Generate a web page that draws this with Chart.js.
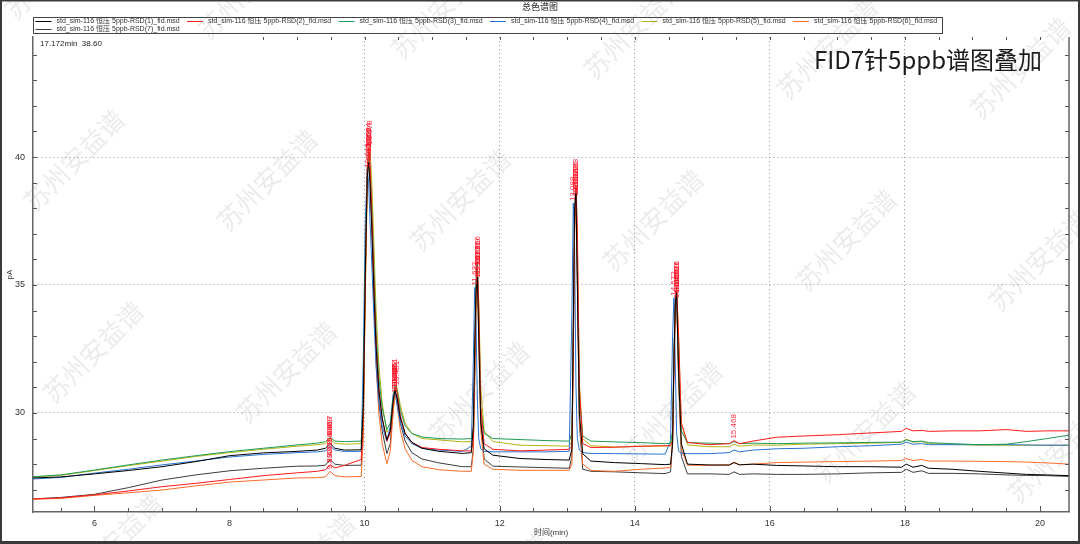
<!DOCTYPE html>
<html lang="zh">
<head>
<meta charset="UTF-8" />
<title>FID7针5ppb谱图叠加</title>
<script src="https://cdn.jsdelivr.net/npm/chart.js"></script>
<style>
  html, body { margin: 0; padding: 0; background: #fff; }
  #wrap { width: 1080px; height: 544px; }
</style>
</head>
<body>
<div id="wrap"><canvas id="chrom" width="1080" height="544"></canvas></div>
<script>
  // retention time axis (min), shared by all runs
  const times = [5.09, 5.5, 6.0, 6.5, 7.0, 7.5, 8.0, 8.5, 9.0, 9.3,
    9.42, 9.49, 9.56, 9.7, 9.95, 9.98, 10.01, 10.04, 10.06, 10.08,
    10.11, 10.14, 10.17, 10.21, 10.26, 10.33, 10.38, 10.42, 10.45, 10.48,
    10.53, 10.6, 10.7, 10.85, 11.1, 11.45, 11.58, 11.61, 11.63, 11.65,
    11.67, 11.69, 11.72, 11.77, 11.9, 12.3, 12.7, 13.03, 13.07, 13.09,
    13.11, 13.13, 13.15, 13.18, 13.23, 13.35, 13.7, 14.1, 14.45, 14.53,
    14.56, 14.58, 14.60, 14.62, 14.65, 14.69, 14.78, 15.1, 15.4, 15.47,
    15.55, 15.75, 16.1, 16.5, 17.0, 17.5, 17.95, 18.02, 18.12, 18.25,
    18.35, 18.7, 19.1, 19.5, 19.8, 20.1, 20.43];

  const run1 = [27.46, 27.50, 27.62, 27.75, 27.90, 28.10, 28.33, 28.44, 28.50, 28.55,
    28.62, 28.80, 28.62, 28.55, 28.56, 30.2, 35.5, 39.2, 39.8, 39.0,
    37.0, 34.6, 32.6, 30.9, 29.8, 28.95, 29.3, 30.4, 30.9, 30.6,
    29.8, 29.2, 28.85, 28.62, 28.5, 28.42, 28.45, 29.5, 32.5, 34.8,
    35.3, 33.0, 29.6, 28.6, 28.35, 28.22, 28.18, 28.16, 28.6, 33.5,
    38.0, 38.6, 35.0, 30.0, 28.4, 28.12, 28.06, 28.02, 27.98, 28.0,
    28.8, 32.0, 34.3, 34.7, 31.5, 28.8, 28.0, 27.97, 27.96, 28.06,
    27.97, 28.0, 27.95, 27.93, 27.9, 27.9, 27.88, 28.0, 27.88, 27.95,
    27.84, 27.8, 27.72, 27.65, 27.6, 27.58, 27.55];
  const run2 = [26.64, 26.68, 26.80, 26.95, 27.12, 27.25, 27.40, 27.55, 27.66, 27.72,
    27.78, 27.98, 27.85, 27.95, 28.18, 29.8, 35.0, 39.6, 40.3, 39.8,
    37.6, 35.0, 32.8, 31.0, 29.8, 28.9, 29.2, 30.3, 31.0, 30.8,
    29.9, 29.2, 28.85, 28.65, 28.58, 28.52, 28.52, 28.9, 31.5, 34.5,
    35.7, 34.2, 30.2, 28.8, 28.58, 28.52, 28.55, 28.58, 28.7, 32.0,
    37.0, 38.9, 37.2, 31.0, 28.8, 28.65, 28.66, 28.7, 28.72, 28.72,
    28.9, 31.5, 34.0, 34.9, 33.0, 29.6, 28.85, 28.76, 28.8, 28.92,
    28.8, 28.9, 29.05, 29.1, 29.15, 29.22, 29.28, 29.4, 29.3, 29.32,
    29.28, 29.3, 29.3, 29.35, 29.28, 29.3, 29.3];
  const run3 = [27.51, 27.58, 27.77, 27.97, 28.16, 28.33, 28.49, 28.62, 28.75, 28.82,
    28.88, 29.05, 28.9, 28.88, 28.9, 30.5, 35.8, 39.5, 40.1, 39.6,
    37.8, 35.4, 33.2, 31.4, 30.2, 29.35, 29.6, 30.5, 31.1, 30.9,
    30.1, 29.5, 29.2, 29.06, 29.0, 28.98, 29.0, 29.4, 32.0, 35.0,
    35.8, 33.8, 30.2, 29.2, 29.0, 28.96, 28.92, 28.9, 29.2, 33.0,
    37.6, 38.4, 35.8, 30.6, 29.1, 28.9, 28.87, 28.84, 28.8, 28.82,
    29.3, 32.3, 34.2, 34.6, 31.8, 29.3, 28.84, 28.82, 28.8, 28.88,
    28.8, 28.82, 28.8, 28.82, 28.83, 28.85, 28.86, 28.95, 28.88, 28.9,
    28.84, 28.8, 28.76, 28.78, 28.88, 29.0, 29.13];
  const run4 = [27.42, 27.48, 27.65, 27.80, 27.97, 28.12, 28.28, 28.38, 28.45, 28.48,
    28.52, 28.7, 28.55, 28.5, 28.5, 32.0, 37.4, 39.5, 39.0, 37.5,
    35.6, 33.6, 31.8, 30.4, 29.5, 28.88, 29.5, 30.7, 30.9, 30.3,
    29.6, 29.1, 28.8, 28.62, 28.55, 28.5, 28.7, 32.0, 34.9, 33.5,
    30.5, 29.0, 28.6, 28.5, 28.48, 28.48, 28.48, 28.5, 34.0, 38.2,
    36.5, 31.0, 29.0, 28.55, 28.45, 28.42, 28.41, 28.4, 28.39, 28.9,
    33.0, 34.5, 32.0, 29.2, 28.5, 28.42, 28.41, 28.41, 28.45, 28.55,
    28.48, 28.55, 28.6, 28.62, 28.68, 28.72, 28.78, 28.86, 28.78, 28.8,
    28.76, 28.76, 28.76, 28.76, 28.75, 28.74, 28.74];
  const run5 = [27.50, 27.56, 27.75, 27.94, 28.12, 28.3, 28.45, 28.58, 28.7, 28.76,
    28.8, 28.98, 28.82, 28.78, 28.8, 29.8, 34.5, 39.0, 40.2, 40.4,
    38.8, 36.4, 34.0, 31.9, 30.4, 29.25, 29.4, 30.2, 30.9, 31.0,
    30.3, 29.6, 29.2, 29.0, 28.95, 28.87, 28.88, 29.1, 31.0, 34.0,
    35.5, 34.4, 31.0, 29.3, 28.88, 28.74, 28.72, 28.7, 28.9, 32.5,
    37.2, 38.7, 36.8, 31.2, 29.0, 28.72, 28.67, 28.7, 28.71, 28.72,
    29.0, 31.8, 34.1, 34.8, 32.8, 29.6, 28.75, 28.68, 28.68, 28.78,
    28.7, 28.75, 28.74, 28.78, 28.8, 28.82, 28.85, 28.98, 28.86, 28.88,
    28.8, 28.78, 28.74, 28.74, 28.74, 28.74, 28.74];
  const run6 = [26.63, 26.66, 26.78, 26.88, 26.99, 27.15, 27.30, 27.38, 27.46, 27.47,
    27.5, 27.72, 27.55, 27.5, 27.52, 29.0, 34.6, 39.3, 39.9, 39.2,
    37.0, 34.4, 32.0, 30.0, 28.8, 28.02, 28.5, 29.9, 30.7, 30.4,
    29.3, 28.6, 28.15, 27.9, 27.78, 27.72, 27.72, 28.5, 31.5, 34.6,
    35.2, 32.8, 29.3, 28.0, 27.8, 27.76, 27.76, 27.76, 28.0, 32.8,
    37.5, 38.5, 35.2, 29.8, 28.0, 27.75, 27.72, 27.8, 27.85, 27.88,
    28.9, 32.0, 34.0, 34.4, 31.2, 28.6, 27.96, 27.95, 27.98, 28.08,
    27.98, 28.0, 28.06, 28.08, 28.1, 28.12, 28.14, 28.22, 28.14, 28.18,
    28.12, 28.12, 28.11, 28.1, 28.08, 28.05, 28.0];
  const run7 = [26.64, 26.7, 26.82, 27.08, 27.38, 27.58, 27.74, 27.84, 27.92, 27.93,
    27.96, 28.18, 28.0, 27.95, 27.96, 29.5, 35.3, 39.6, 40.1, 39.4,
    37.2, 34.8, 32.4, 30.5, 29.3, 28.41, 28.8, 30.1, 30.8, 30.6,
    29.6, 28.9, 28.45, 28.2, 28.05, 27.9, 27.9, 28.6, 31.8, 35.2,
    35.9, 33.5, 29.8, 28.2, 27.92, 27.89, 27.86, 27.84, 28.3, 33.2,
    38.0, 38.8, 35.4, 29.6, 27.8, 27.72, 27.7, 27.66, 27.63, 27.7,
    28.8, 32.2, 34.5, 34.9, 31.3, 28.3, 27.62, 27.62, 27.6, 27.7,
    27.6, 27.62, 27.6, 27.6, 27.62, 27.66, 27.68, 27.8, 27.68, 27.74,
    27.64, 27.64, 27.62, 27.58, 27.56, 27.55, 27.52];

  const runNames = [
    'std_sim-116 恒压 5ppb-RSD(1)_fid.msd',
    'std_sim-116 恒压 5ppb-RSD(2)_fid.msd',
    'std_sim-116 恒压 5ppb-RSD(3)_fid.msd',
    'std_sim-116 恒压 5ppb-RSD(4)_fid.msd',
    'std_sim-116 恒压 5ppb-RSD(5)_fid.msd',
    'std_sim-116 恒压 5ppb-RSD(6)_fid.msd',
    'std_sim-116 恒压 5ppb-RSD(7)_fid.msd'
  ];
  const runColors = ['#000000', '#ff1a1a', '#1f9a55', '#2a72d0', '#b4b414', '#ff6a2a', '#3c3c3c'];

  // peak windows (min) and the retention times printed above each apex
  const peakWindows = [[9.4, 9.6], [9.95, 10.35], [10.35, 10.65], [11.5, 11.8], [13.0, 13.3], [14.5, 14.75], [15.4, 15.6]];
  const rtLabels = [
    [9.496, 10.062, 10.455, 11.668, 13.129, 14.618, null],
    [9.493, 10.064, 10.452, 11.671, 13.133, 14.621, 15.468],
    [9.497, 10.060, 10.451, 11.669, 13.128, 14.617, null],
    [9.489, 10.043, 10.437, 11.632, 13.088, 14.572, null],
    [9.499, 10.078, 10.481, 11.673, 13.131, 14.619, null],
    [9.492, 10.061, 10.450, 11.667, 13.127, 14.615, null],
    [9.495, 10.059, 10.453, 11.666, 13.126, 14.616, null]
  ];

  const xTicks = [6, 8, 10, 12, 14, 16, 18, 20];
  const yTicks = [30, 35, 40];

  const runs = [run1, run2, run3, run4, run5, run6, run7];
  const FONT = '"Liberation Sans", "Noto Sans CJK SC", sans-serif';

  const datasets = runs.map((vals, i) => ({
    label: runNames[i],
    data: times.map((t, j) => ({ x: t, y: vals[j] })),
    borderColor: runColors[i],
    backgroundColor: runColors[i],
    borderWidth: 1,
    pointRadius: 0,
    tension: 0
  }));

  // red retention-time labels over peaks
  const peakLabels = {
    id: 'peakLabels',
    afterDatasetsDraw(chart) {
      const ctx = chart.ctx;
      const xs = chart.scales.x, ys = chart.scales.y;
      ctx.save();
      ctx.fillStyle = 'rgba(255,20,40,0.9)';
      ctx.font = '8px ' + FONT;
      ctx.textAlign = 'left';
      ctx.textBaseline = 'middle';
      runs.forEach((vals, s) => {
        peakWindows.forEach((w, k) => {
          const rt = rtLabels[s][k];
          if (rt === null) return;
          let best = -1;
          times.forEach((t, j) => {
            if (t >= w[0] && t <= w[1] && (best < 0 || vals[j] > vals[best])) best = j;
          });
          if (best < 0) return;
          const px = xs.getPixelForValue(times[best]);
          const py = ys.getPixelForValue(vals[best]);
          ctx.save();
          ctx.translate(px, py - 2);
          ctx.rotate(-Math.PI / 2);
          ctx.fillText(rt.toFixed(3), 0, 0);
          ctx.restore();
        });
      });
      ctx.restore();
    }
  };

  // frame, inner ticks, legend box, notes and watermark
  const decor = {
    id: 'decor',
    afterDraw(chart) {
      const ctx = chart.ctx;
      const a = chart.chartArea;
      const xs = chart.scales.x, ys = chart.scales.y;
      ctx.save();

      ctx.strokeStyle = '#666';
      ctx.lineWidth = 1.5;
      ctx.beginPath();
      ctx.moveTo(a.right, a.top);
      ctx.lineTo(a.right, a.bottom);
      ctx.stroke();

      ctx.strokeStyle = '#555';
      ctx.lineWidth = 1;
      ctx.beginPath();
      for (let v = 5.5; v <= 20.4; v += 0.5) {
        const px = Math.round(xs.getPixelForValue(v)) + 0.5;
        const len = v % 2 === 0 ? 6 : 4;
        ctx.moveTo(px, a.bottom);
        ctx.lineTo(px, a.bottom - len);
        if (v >= 8.5) {
          ctx.moveTo(px, a.top);
          ctx.lineTo(px, a.top + 3);
        }
      }
      for (let v = 27; v <= 44; v++) {
        const py = Math.round(ys.getPixelForValue(v)) + 0.5;
        ctx.moveTo(a.left, py);
        ctx.lineTo(a.left + 4, py);
        ctx.moveTo(a.right, py);
        ctx.lineTo(a.right - 4, py);
      }
      ctx.stroke();

      // title
      ctx.fillStyle = '#222';
      ctx.font = '9px ' + FONT;
      ctx.textAlign = 'center';
      ctx.textBaseline = 'middle';
      ctx.fillText('总色谱图', 540, 8);

      // legend
      ctx.strokeStyle = '#444';
      ctx.strokeRect(33.5, 17.5, 909, 16);
      ctx.font = '7px ' + FONT;
      ctx.textAlign = 'left';
      runNames.forEach((name, i) => {
        const row = i < 6 ? 0 : 1;
        const col = i < 6 ? i : 0;
        const x0 = 35.5 + 151.5 * col;
        const y0 = row === 0 ? 21.5 : 29.5;
        ctx.strokeStyle = runColors[i];
        ctx.beginPath();
        ctx.moveTo(x0, y0);
        ctx.lineTo(x0 + 16, y0);
        ctx.stroke();
        ctx.fillStyle = '#333';
        ctx.fillText(name, x0 + 21, y0);
      });

      // cursor readout
      ctx.fillStyle = '#222';
      ctx.font = '8px ' + FONT;
      ctx.fillText('17.172min  38.60', 40, 44);

      // overlay caption
      ctx.fillStyle = '#1a1a1a';
      ctx.font = '24px "Noto Sans CJK SC", sans-serif';
      ctx.fillText('FID7针5ppb谱图叠加', 814, 60);

      // watermark
      ctx.fillStyle = 'rgba(110,110,110,0.14)';
      ctx.font = '26px "Noto Sans CJK SC", sans-serif';
      ctx.textAlign = 'center';
      for (let j = -1; j <= 2; j++) {
        for (let i = 0; i <= 5; i++) {
          const cx = 74 + 193 * i + 19 * j;
          const cy = 160 + 20 * i + 192 * j;
          ctx.save();
          ctx.translate(cx, cy);
          ctx.rotate(-Math.PI / 4);
          ctx.fillText('苏州安益谱', 0, 0);
          ctx.restore();
        }
      }

      // outer frame
      ctx.fillStyle = '#3a3a3a';
      ctx.fillRect(0, 0, 1080, 1.5);
      ctx.fillRect(0, 0, 2, 544);
      ctx.fillRect(1078, 0, 2, 544);
      ctx.fillRect(0, 541, 1080, 3);
      ctx.restore();
    }
  };

  Chart.defaults.font.family = FONT;

  new Chart(document.getElementById('chrom'), {
    type: 'line',
    data: { datasets },
    options: {
      responsive: false,
      animation: false,
      events: [],
      layout: { padding: { top: 37, right: 11, left: 0, bottom: 0 } },
      plugins: { legend: { display: false }, tooltip: { enabled: false }, title: { display: false } },
      scales: {
        x: {
          type: 'linear',
          min: 5.09,
          max: 20.43,
          afterBuildTicks: s => { s.ticks = xTicks.map(v => ({ value: v })); },
          afterFit: s => { s.height = 32; },
          ticks: { font: { size: 9 }, color: '#333', padding: 6, maxRotation: 0 },
          grid: {
            drawTicks: false,
            color: c => (c.tick && c.tick.value >= 10 && c.tick.value < 20) ? '#999' : 'rgba(0,0,0,0)'
          },
          border: { color: '#666', width: 1.5, dash: [1, 3] },
          title: { display: true, text: '时间(min)', font: { size: 8 }, color: '#333', padding: { top: 0, bottom: 6 } }
        },
        y: {
          min: 26.13,
          max: 44.69,
          afterBuildTicks: s => { s.ticks = yTicks.map(v => ({ value: v })); },
          afterFit: s => { s.width = 33; },
          ticks: { font: { size: 9 }, color: '#333', padding: 8 },
          grid: { drawTicks: false, color: '#999' },
          border: { color: '#666', width: 1.5, dash: [1, 3] },
          title: { display: true, text: 'pA', font: { size: 8 }, color: '#333', padding: { top: 5, bottom: 0 } }
        }
      }
    },
    plugins: [peakLabels, decor]
  });
</script>
</body>
</html>
